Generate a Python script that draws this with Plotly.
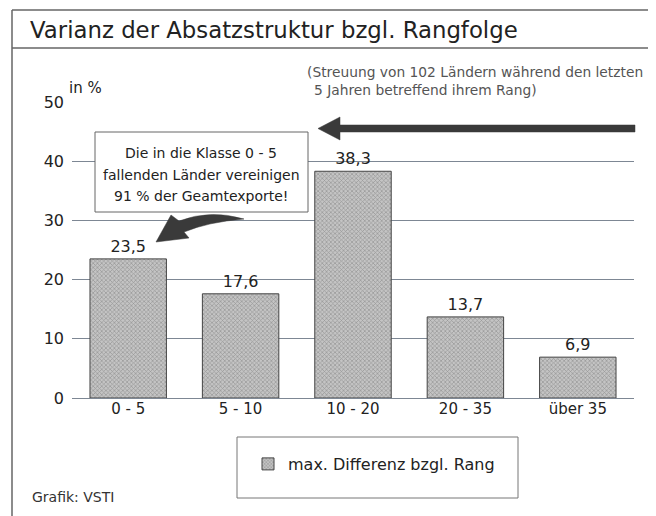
import plotly.graph_objects as go

categories = ["0 - 5", "5 - 10", "10 - 20", "20 - 35", "über 35"]
values = [23.5, 17.6, 38.3, 13.7, 6.9]
y_ticks = [0, 10, 20, 30, 40, 50]
series_name = "max. Differenz bzgl. Rang"

# the page body has an 8px margin; work in target-screen pixels and compensate
OFF = 8
W, H = 656 - OFF, 516 - OFF
PL, PR, PT, PB = 72, 634, 102, 398          # plot area in screen pixels
L, R, T, B = PL - OFF, W - (PR - OFF), PT - OFF, H - (PB - OFF)
PW, PH = PR - PL, PB - PT

def px(x):
    return (x - PL) / PW

def py(y):
    return (PB - y) / PH

FONT = "DejaVu Sans, Verdana, sans-serif"

fig = go.Figure()
fig.add_trace(go.Bar(
    x=categories, y=values, name=series_name,
    width=0.68,
    text=[f"{v:.1f}".replace(".", ",") for v in values],
    textposition="outside", cliponaxis=False,
    textfont=dict(size=16, color="#222", family=FONT),
    marker=dict(color="#bdbdbd",
                line=dict(color="#444", width=1),
                pattern=dict(shape="x", size=3, solidity=0.4, fgcolor="#666", bgcolor="#c4c4c4")),
    showlegend=True,
))

shapes = []
def line(x0, y0, x1, y1, color="#555", width=1.2):
    shapes.append(dict(type="line", xref="paper", yref="paper",
                       x0=px(x0), y0=py(y0), x1=px(x1), y1=py(y1),
                       line=dict(color=color, width=width), layer="above"))

# frame
line(12, 10, 652, 10, "#666", 1.5)
line(12, 48, 652, 48, "#666", 1.5)
line(12, 10, 12, 520, "#666", 1.5)
line(652, 10, 652, 520, "#888", 1.0)

# text box
shapes.append(dict(type="rect", xref="paper", yref="paper",
                   x0=px(95), y0=py(132), x1=px(308), y1=py(212),
                   line=dict(color="#666", width=1), fillcolor="white", layer="above"))
# legend box
shapes.append(dict(type="rect", xref="paper", yref="paper",
                   x0=px(237), y0=py(437), x1=px(518), y1=py(498),
                   line=dict(color="#777", width=1), fillcolor="white", layer="below"))

def path(cmds):
    out = []
    for cmd in cmds:
        c, coords = cmd[0], cmd[1:]
        pts = [f"{px(coords[i]):.5f},{py(coords[i+1]):.5f}" for i in range(0, len(coords), 2)]
        out.append(c + " " + " ".join(pts))
    return " ".join(out) + " Z"

# big straight arrow
big = path([("M", 635, 125), ("L", 340, 125), ("L", 340, 117), ("L", 318, 128.5),
            ("L", 340, 140), ("L", 340, 132), ("L", 635, 132)])
shapes.append(dict(type="path", xref="paper", yref="paper", path=big,
                   fillcolor="#3a3a3a", line=dict(color="#3a3a3a", width=0.5), layer="above"))

# curved arrow
curved = path([("M", 244, 219), ("Q", 210, 209, 179, 221), ("L", 171, 215), ("L", 156, 242),
               ("L", 189, 238), ("L", 184, 232), ("Q", 208, 222, 244, 219)])
shapes.append(dict(type="path", xref="paper", yref="paper", path=curved,
                   fillcolor="#3a3a3a", line=dict(color="#3a3a3a", width=0.5), layer="above"))

annotations = []
def text(x, y, s, size, color="#222", xanchor="left"):
    annotations.append(dict(xref="paper", yref="paper", x=px(x), y=py(y), text=s,
                            showarrow=False, xanchor=xanchor, yanchor="middle",
                            font=dict(size=size, color=color, family=FONT)))

text(28, 30, "Varianz der Absatzstruktur bzgl. Rangfolge", 22.8, "#222")
text(305, 72, "(Streuung von 102 Ländern während den letzten", 13.8, "#555")
text(312, 90, "5 Jahren betreffend ihrem Rang)", 13.8, "#555")
text(67, 88, "in %", 15, "#222")
text(201, 153, "Die in die Klasse 0 - 5", 14, "#222", "center")
text(201, 175, "fallenden Länder vereinigen", 14, "#222", "center")
text(201, 196, "91 % der Geamtexporte!", 14, "#222", "center")
text(30, 497, "Grafik: VSTI", 14, "#333")

fig.update_layout(
    width=W, height=H,
    margin=dict(l=L, r=R, t=T, b=B, autoexpand=False),
    paper_bgcolor="white", plot_bgcolor="white",
    font=dict(family=FONT, color="#222"),
    shapes=shapes, annotations=annotations,
    showlegend=True,
    legend=dict(x=px(248), y=py(464), xanchor="left", yanchor="middle",
                bgcolor="rgba(0,0,0,0)", borderwidth=0,
                font=dict(size=16, color="#222", family=FONT)),
    xaxis=dict(type="category", showline=False, showgrid=False, ticks="",
               tickfont=dict(size=15, color="#222", family=FONT)),
    yaxis=dict(range=[0, 50], tickvals=y_ticks, showgrid=True, gridcolor="#7d8794",
               gridwidth=1, zeroline=True, zerolinecolor="#7d8794", zerolinewidth=1,
               showline=False, ticks="", ticklabelstandoff=7,
               tickfont=dict(size=16, color="#222", family=FONT)),
)

fig.write_html("out.html")
